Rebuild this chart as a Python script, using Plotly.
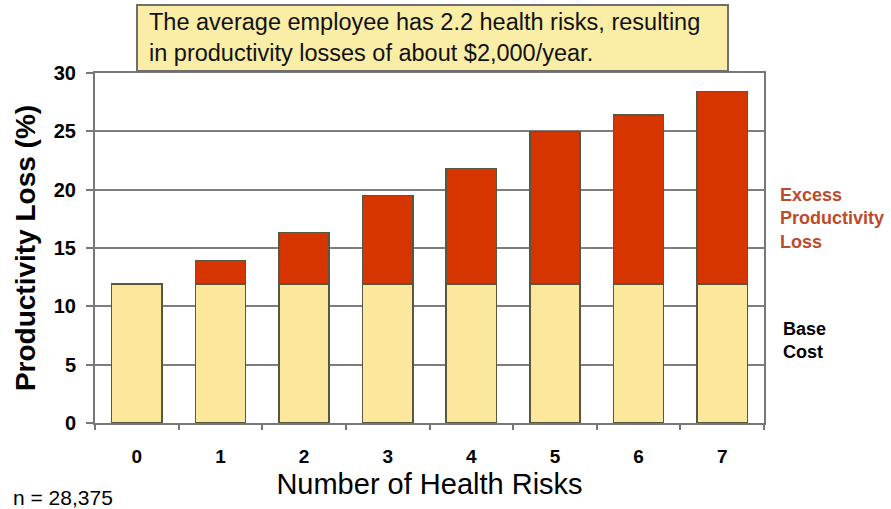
import plotly.graph_objects as go

categories = ["0", "1", "2", "3", "4", "5", "6", "7"]
base_cost = [11.9, 11.9, 11.9, 11.9, 11.9, 11.9, 11.9, 11.9]
excess_loss = [0.0, 2.05, 4.45, 7.6, 9.9, 13.1, 14.5, 16.5]
y_ticks = [0, 5, 10, 15, 20, 25, 30]

FONT = "Liberation Sans, Arial, sans-serif"
outline = dict(color="#5a5640", width=1.5)

fig = go.Figure()
fig.add_trace(go.Bar(x=categories, y=base_cost, name="Base Cost",
                     marker=dict(color="#FBE89C", line=outline)))
fig.add_trace(go.Bar(x=categories, y=excess_loss, name="Excess Productivity Loss",
                     marker=dict(color="#D63500", line=outline)))

fig.update_layout(
    barmode="stack", bargap=0.4,
    width=891, height=509,
    margin=dict(l=95, r=127, t=73, b=86),
    paper_bgcolor="white", plot_bgcolor="white",
    showlegend=False,
    font=dict(family=FONT, color="black"),
)
fig.update_xaxes(
    type="category", range=[-0.5, 7.5],
    showline=True, linecolor="#777", linewidth=2, mirror=True,
    ticks="outside", tickson="boundaries", ticklen=5, tickcolor="#777", tickwidth=1.5,
    tickfont=dict(size=19, family=FONT, weight="bold"),
    ticklabelstandoff=15,
    title=dict(text="Number of Health Risks", font=dict(size=29, family=FONT), standoff=8),
)
fig.update_yaxes(
    range=[0, 30], tickvals=y_ticks,
    showline=True, linecolor="#777", linewidth=2, mirror=True,
    showgrid=True, gridcolor="#7e7e7e", gridwidth=2,
    ticks="outside", ticklen=7, tickcolor="#777", tickwidth=1.5,
    tickfont=dict(size=20, family=FONT, weight="bold"),
    ticklabelstandoff=6,
    title=dict(text="Productivity Loss (%)", font=dict(size=28, family=FONT, weight="bold"), standoff=10),
    zeroline=False,
)

fig.add_shape(type="rect", xref="paper", yref="paper",
              x0=(137 - 95) / 669, x1=(728 - 95) / 669,
              y0=(423 - 71) / 350, y1=(423 - 5) / 350,
              fillcolor="#FAEDA6", line=dict(color="#6e6e6e", width=2), layer="above")
fig.add_annotation(xref="paper", yref="paper",
                   x=(147 - 95) / 669, y=(423 - 37) / 350,
                   xanchor="left", yanchor="middle", align="left", showarrow=False,
                   text="The average employee has 2.2 health risks, resulting<br>in productivity losses of about $2,000/year.",
                   font=dict(size=23.5, family=FONT, color="#111"))

fig.add_annotation(xref="paper", yref="paper", x=(778 - 95) / 669, y=(423 - 218) / 350,
                   xanchor="left", yanchor="middle", align="left", showarrow=False,
                   text="Excess<br>Productivity<br>Loss",
                   font=dict(size=18, family=FONT, color="#BE4A2C", weight="bold"))
fig.add_annotation(xref="paper", yref="paper", x=(781 - 95) / 669, y=(423 - 340) / 350,
                   xanchor="left", yanchor="middle", align="left", showarrow=False,
                   text="Base<br>Cost",
                   font=dict(size=18, family=FONT, color="black", weight="bold"))
fig.add_annotation(xref="paper", yref="paper", x=(11 - 95) / 669, y=(423 - 497) / 350,
                   xanchor="left", yanchor="middle", showarrow=False,
                   text="n = 28,375", font=dict(size=21, family=FONT, color="black"))

fig.write_html("out.html")
